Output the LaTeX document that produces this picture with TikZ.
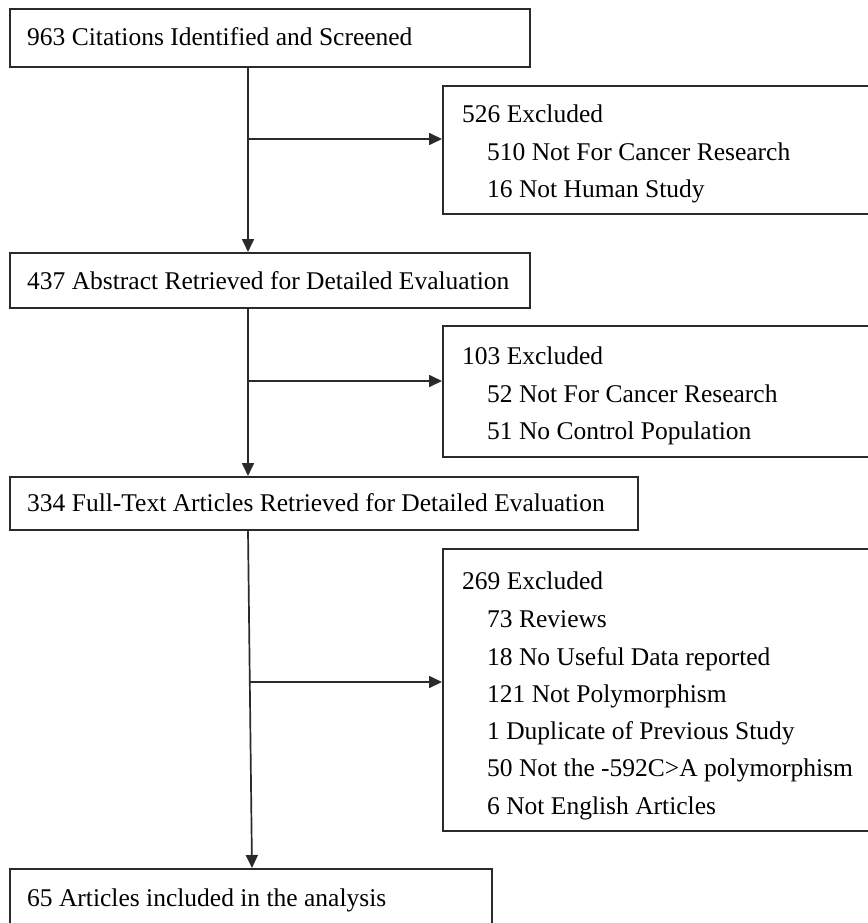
\documentclass[tikz,border=0pt]{standalone}
\usepackage{fontspec}
\setmainfont{Liberation Serif}
\usetikzlibrary{arrows.meta}
\definecolor{ink}{HTML}{2A2A2A}
\begin{document}
\begin{tikzpicture}[x=1pt,y=-1pt,
  boxline/.style={draw=ink,line width=1.7pt},
  lbl/.style={anchor=base west,inner sep=0pt,font=\fontsize{25.5}{30}\selectfont,text=black},
  conn/.style={draw=ink,line width=1.7pt},
  arr/.style={conn,-{Triangle[length=13pt,width=12pt]}}]
\useasboundingbox (0,0) rectangle (867,923);
% boxes
\node[boxline,anchor=north west,minimum width=520pt,minimum height=58pt,inner sep=0pt] (b1) at (9,8) {};
\node[boxline,anchor=north west,minimum width=433pt,minimum height=128pt,inner sep=0pt] (e1) at (442,85) {};
\node[boxline,anchor=north west,minimum width=520pt,minimum height=55pt,inner sep=0pt] (b2) at (9,252) {};
\node[boxline,anchor=north west,minimum width=433pt,minimum height=131pt,inner sep=0pt] (e2) at (442,325) {};
\node[boxline,anchor=north west,minimum width=628pt,minimum height=53pt,inner sep=0pt] (b3) at (9,476) {};
\node[boxline,anchor=north west,minimum width=433pt,minimum height=282pt,inner sep=0pt] (e3) at (442,548) {};
\node[boxline,anchor=north west,minimum width=482pt,minimum height=67pt,inner sep=0pt] (b4) at (9,868) {};
% texts
\node[lbl] (t1) at (27,46) {963 Citations Identified and Screened};
\node[lbl] (t2) at (27,289) {437 Abstract Retrieved for Detailed Evaluation};
\node[lbl] (t3) at (27,511) {334 Full-Text Articles Retrieved for Detailed Evaluation};
\node[lbl] (t4) at (27,906) {65 Articles included in the analysis};
\node[lbl] (e1a) at (462,123) {526 Excluded};
\node[lbl] (e1b) at (487,160) {510 Not For Cancer Research};
\node[lbl] (e1c) at (487,197) {16 Not Human Study};
\node[lbl] (e2a) at (462,364) {103 Excluded};
\node[lbl] (e2b) at (487,402) {52 Not For Cancer Research};
\node[lbl] (e2c) at (487,439) {51 No Control Population};
\node[lbl] (e3a) at (462,589) {269 Excluded};
\node[lbl] (e3b) at (487,627) {73 Reviews};
\node[lbl] (e3c) at (487,665) {18 No Useful Data reported};
\node[lbl] (e3d) at (487,702) {121 Not Polymorphism};
\node[lbl] (e3e) at (487,739) {1 Duplicate of Previous Study};
\node[lbl] (e3f) at (487,776) {50 Not the -592C>A polymorphism};
\node[lbl] (e3g) at (487,814) {6 Not English Articles};
% connectors
\coordinate (s1) at (b1.south west -| 248,0);
\coordinate (j1) at (248,139);
\coordinate (s2) at (b2.south west -| 248,0);
\coordinate (j2) at (248,381);
\coordinate (s3) at (b3.south west -| 248,0);
\coordinate (j3) at (249.5,682);
\draw[arr] (s1) -- (s1 |- b2.north);
\draw[arr] (j1) -- (j1 -| e1.west);
\draw[arr] (s2) -- (s2 |- b3.north);
\draw[arr] (j2) -- (j2 -| e2.west);
\draw[arr] (s3) -- (252,0 |- b4.north);
\draw[arr] (j3) -- (j3 -| e3.west);
\end{tikzpicture}
\end{document}
